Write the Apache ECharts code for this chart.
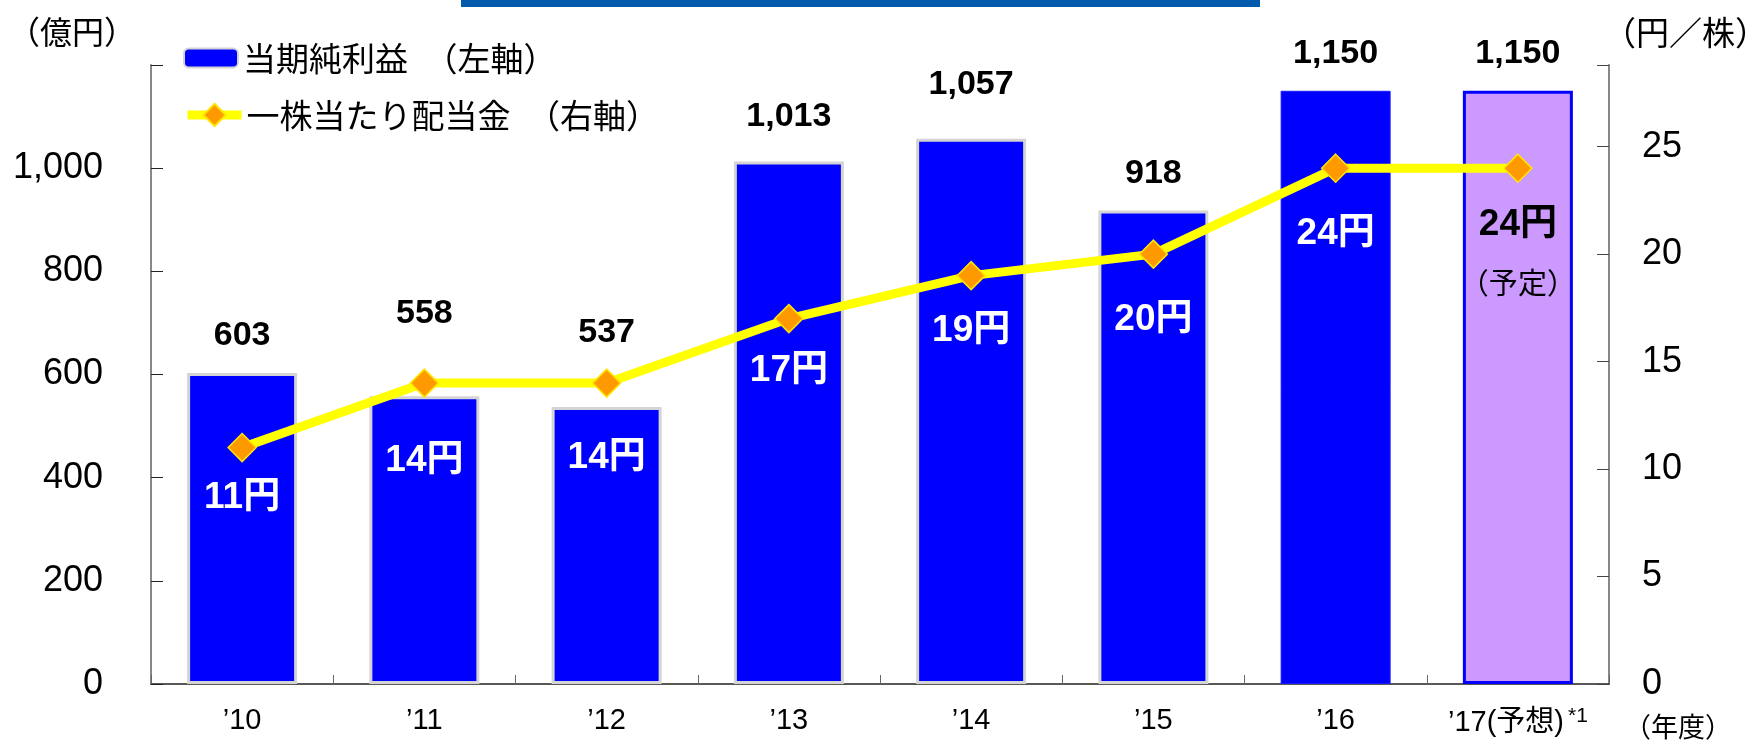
<!DOCTYPE html>
<html>
<head>
<meta charset="utf-8">
<script src="https://cdn.jsdelivr.net/npm/echarts@6/dist/echarts.min.js"></script>
<style>
html,body{margin:0;padding:0;background:#fff;}
#c{width:1752px;height:740px;}
</style>
</head>
<body>
<div id="c"></div>
<script>
const categories = ["’10", "’11", "’12", "’13", "’14", "’15", "’16", "’17(予想)"];
const netIncome = [603, 558, 537, 1013, 1057, 918, 1150, 1150];
const dividend = [11, 14, 14, 17, 19, 20, 24, 24];
const leftTicks = [0, 200, 400, 600, 800, 1000];
const rightTicks = [0, 5, 10, 15, 20, 25];

// styling (not data)
const divLabelDy = [50, 78, 75, 52, 55, 66, 66, 85];
const barLabelLift = [0, 46, 37, 8, 17, 0, 0, 0];
const REG = "'Liberation Sans',Arial,'Noto Sans CJK JP',sans-serif";
const CJK = "'Noto Sans CJK JP',sans-serif";

const chart = echarts.init(document.getElementById('c'), null, {renderer: 'canvas'});

const barData = netIncome.map((v, i) => {
  const d = {value: v, label: {offset: [0, -barLabelLift[i]]}};
  if (i === 7) d.itemStyle = {color: '#CC99FF', borderColor: '#0000FF', borderWidth: 3};
  if (i === 6) d.itemStyle = {color: '#0000FF', borderColor: '#1a1aff', borderWidth: 1};
  return d;
});

const lineData = dividend.map((v, i) => {
  const lbl = {offset: [0, divLabelDy[i]]};
  if (i === 7) {
    lbl.formatter = '{b|' + v + '円}\n{s|（予定）}';
    lbl.color = '#000';
  }
  return {value: v, label: lbl};
});

const BAR_NAME = '当期純利益　（左軸）';
const LINE_NAME = '一株当たり配当金　（右軸）';
const legendText = {fontFamily: CJK, fontSize: 33, color: '#000', lineHeight: 36};

const option = {
  animation: false,
  backgroundColor: '#fff',
  grid: {left: 151, right: 143, top: 65, bottom: 56, containLabel: false},
  legend: [
    {
      orient: 'vertical', left: 178, top: 35,
      itemWidth: 54, itemHeight: 19,
      textStyle: legendText,
      data: [{name: BAR_NAME}]
    },
    {
      orient: 'vertical', left: 178, top: 92,
      itemWidth: 54, itemHeight: 28,
      textStyle: legendText,
      data: [{name: LINE_NAME, lineStyle: {width: 9, color: '#FFFF00'}}]
    }
  ],
  xAxis: {
    type: 'category',
    data: categories,
    axisLine: {lineStyle: {color: '#222', width: 1.5}},
    axisTick: {show: true, inside: true, length: 9, lineStyle: {color: '#666'}},
    axisLabel: {
      interval: 0,
      margin: 22,
      fontFamily: REG,
      fontSize: 29,
      color: '#000',
      formatter: (v, i) => i === 7 ? '{a|' + v + '}{sup|*1}' : v,
      rich: {
        a: {fontFamily: REG, fontSize: 29, color: '#000'},
        sup: {fontFamily: REG, fontSize: 21, color: '#000', verticalAlign: 'top', padding: [0, 0, 14, 4]}
      }
    }
  },
  yAxis: [
    {
      type: 'value', min: 0, max: 1200, interval: 200,
      axisLine: {show: true, lineStyle: {color: '#888', width: 2}},
      axisTick: {show: true, inside: true, length: 12, lineStyle: {color: '#222'}},
      splitLine: {show: false},
      axisLabel: {
        margin: 48, fontFamily: REG, fontSize: 36, color: '#000',
        formatter: v => leftTicks.indexOf(v) >= 0 ? v.toLocaleString('en-US') : ''
      }
    },
    {
      type: 'value', min: 0, max: 28.8, interval: 5,
      axisLine: {show: true, lineStyle: {color: '#888', width: 2}},
      axisTick: {show: true, inside: true, length: 12, lineStyle: {color: '#444'}},
      splitLine: {show: false},
      axisLabel: {
        margin: 33, fontFamily: REG, fontSize: 36, color: '#000',
        formatter: v => rightTicks.indexOf(v) >= 0 ? String(v) : ''
      }
    }
  ],
  series: [
    {
      name: BAR_NAME,
      type: 'bar',
      yAxisIndex: 0,
      barWidth: 110,
      data: barData,
      itemStyle: {color: '#0000FF', borderColor: '#d4d4d4', borderWidth: 3},
      label: {
        show: true, position: 'top', distance: 20,
        fontFamily: REG, fontSize: 34, fontWeight: 'bold', color: '#000',
        formatter: p => p.value.toLocaleString('en-US')
      },
      z: 2
    },
    {
      name: LINE_NAME,
      type: 'line',
      yAxisIndex: 1,
      data: lineData,
      symbol: 'diamond',
      symbolSize: 28,
      lineStyle: {color: '#FFFF00', width: 9},
      itemStyle: {color: '#FF9900', borderColor: '#FFE600', borderWidth: 1.5},
      label: {
        show: true, position: 'inside',
        fontFamily: REG, fontSize: 37, fontWeight: 'bold', color: '#fff',
        formatter: '{c}円',
        rich: {
          b: {fontFamily: REG, fontSize: 37, fontWeight: 'bold', color: '#000', lineHeight: 60},
          s: {fontFamily: CJK, fontSize: 29, fontWeight: 'normal', color: '#000', lineHeight: 56}
        }
      },
      z: 5
    }
  ],
  graphic: [
    {type: 'rect', shape: {x: 461, y: 0, width: 799, height: 7}, style: {fill: '#005BAC'}},
    {type: 'text', x: 8, y: 32, style: {text: '（億円）', font: "32px 'Noto Sans CJK JP'", fill: '#000', textVerticalAlign: 'middle', textAlign: 'left'}},
    {type: 'text', x: 1603, y: 32, style: {text: '（円／株）', font: "33px 'Noto Sans CJK JP'", fill: '#000', textVerticalAlign: 'middle', textAlign: 'left'}},
    {type: 'text', x: 1624, y: 727, style: {text: '（年度）', font: "27px 'Noto Sans CJK JP'", fill: '#000', textVerticalAlign: 'middle', textAlign: 'left'}}
  ]
};
chart.setOption(option);
</script>
</body>
</html>
